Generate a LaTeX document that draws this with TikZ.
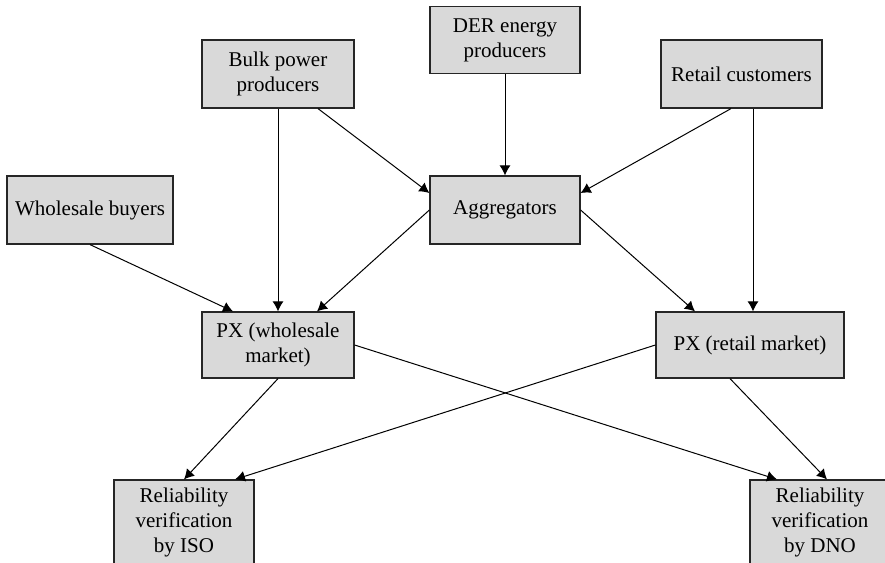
\documentclass[tikz,border=0pt]{standalone}
\usepackage{fontspec}
\setmainfont{Liberation Serif}
\usetikzlibrary{arrows.meta}
\usetikzlibrary{positioning}

\begin{document}
\begin{tikzpicture}[x=0.5pt, y=-0.5pt,
    box/.style={draw=black!85, line width=0.6pt, fill=black!15, inner sep=0pt, align=center,
        font=\fontsize{10.5}{12.5}\selectfont},
    flow/.style={line width=0.5pt, -{Latex[length=5pt, width=5.5pt]}}]

    \useasboundingbox (0,0) rectangle (885,563);

    \node[box, minimum width=76pt, minimum height=34pt] (BulkProducers) at (278,74) {Bulk power\\producers};
    \node[box, minimum width=75pt, minimum height=33.5pt] (DERProducers) at (505,40) {DER energy\\producers};
    \node[box, minimum width=80.5pt, minimum height=34pt] (RetailCustomers) at (741.5,74) {Retail customers};
    \node[box, minimum width=83pt, minimum height=34pt] (WholesaleBuyers) at (90,210) {Wholesale buyers};
    \node[box, minimum width=75pt, minimum height=34pt] (Aggregators) at (505,210) {Aggregators};
    \node[box, minimum width=76pt, minimum height=33pt] (PXWholesale) at (278,345) {PX (wholesale\\market)};
    \node[box, minimum width=94pt, minimum height=33pt] (PXRetail) at (750,345) {PX (retail market)};
    \node[box, minimum width=70pt, minimum height=42pt] (VerifyISO) at (184,522) {Reliability\\verification\\by ISO};
    \node[box, minimum width=70pt, minimum height=42pt] (VerifyDNO) at (820,522) {Reliability\\verification\\by DNO};

    \draw[flow] ([xshift=20pt]BulkProducers.south) -- ([yshift=8.5pt]Aggregators.west);
    \draw[flow] (BulkProducers.south) -- (PXWholesale.north);
    \draw[flow] (DERProducers.south) -- (Aggregators.north);
    \draw[flow] ([xshift=-5.25pt]RetailCustomers.south) -- ([yshift=8.5pt]Aggregators.east);
    \draw[flow] ([xshift=5.75pt]RetailCustomers.south) -- ([xshift=1.5pt]PXRetail.north);
    \draw[flow] (WholesaleBuyers.south) -- ([xshift=-22.5pt]PXWholesale.north);
    \draw[flow] (Aggregators.west) -- ([xshift=19.5pt]PXWholesale.north);
    \draw[flow] (Aggregators.east) -- ([xshift=-27.5pt]PXRetail.north);
    \draw[flow] (PXWholesale.south) -- (VerifyISO.north);
    \draw[flow] (PXRetail.west) -- ([xshift=25.5pt]VerifyISO.north);
    \draw[flow] (PXWholesale.east) -- ([xshift=-21.5pt]VerifyDNO.north);
    \draw[flow] ([xshift=-10pt]PXRetail.south) -- ([xshift=3.5pt]VerifyDNO.north);

\end{tikzpicture}
\end{document}
